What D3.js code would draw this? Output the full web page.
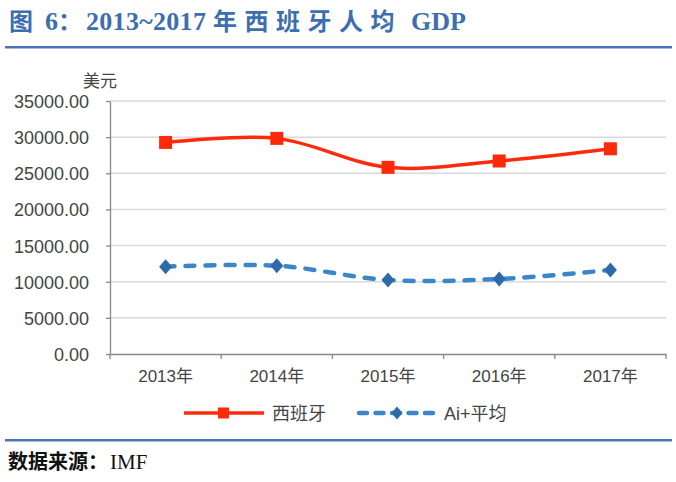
<!DOCTYPE html>
<html><head><meta charset="utf-8">
<script src="https://cdn.jsdelivr.net/npm/d3@7"></script>
<style>body{margin:0;background:#fff;} svg{display:block;}</style>
</head><body>
<script>
const categories = ["2013年","2014年","2015年","2016年","2017年"];
const spain = [29270, 29830, 25820, 26700, 28390];
const aiAvg = [12080, 12220, 10240, 10380, 11620];
const yTicks = [0,5000,10000,15000,20000,25000,30000,35000];
const seriesNames = ["西班牙","Ai+平均"];
const sourceText = "数据来源：IMF";
const unitText = "美元";

const W=676,H=482;
const svg=d3.select("body").append("svg").attr("width",W).attr("height",H);
const serif="'Times New Roman','Liberation Serif','Noto Sans CJK SC',serif";
const cjk="'Noto Sans CJK SC',sans-serif";
const sans="'Liberation Sans',Arial,'Noto Sans CJK SC',sans-serif";
const blueT="#3c6eb0";

const title=svg.append("text").attr("y",30).attr("fill",blueT).attr("font-weight","bold").attr("font-size",24);
title.append("tspan").attr("x",9).attr("font-family",cjk).text("图");
title.append("tspan").attr("x",45).attr("font-family",serif).attr("font-size",26).text("6");
title.append("tspan").attr("x",58).attr("font-family",cjk).text("：");
title.append("tspan").attr("x",86).attr("font-family",serif).attr("font-size",26).attr("letter-spacing",0.3).text("2013~2017");
title.append("tspan").attr("x",213).attr("font-family",cjk).attr("letter-spacing",7.5).text("年西班牙人均");
title.append("tspan").attr("x",411).attr("font-family",serif).attr("font-size",26).text("GDP");

svg.append("rect").attr("x",5).attr("y",46).attr("width",667).attr("height",2.5).attr("fill","#4a74b8");
svg.append("rect").attr("x",5).attr("y",439).attr("width",667).attr("height",2.5).attr("fill","#4a74b8");
const src=svg.append("text").attr("x",8).attr("y",469).attr("font-size",20).attr("fill","#111");
src.append("tspan").attr("font-family",cjk).attr("font-weight","bold").text("数据来源：");
src.append("tspan").attr("x",110).attr("font-family",serif).attr("font-size",21).text("IMF");

const x=d3.scaleBand().domain(categories).range([110,666]);
const y=d3.scaleLinear().domain([0,35000]).range([354,101]);

svg.append("g").selectAll("line").data(yTicks.filter(d=>d>0)).join("line")
  .attr("x1",110).attr("x2",666).attr("y1",d=>y(d)).attr("y2",d=>y(d))
  .attr("stroke","#d9d9d9").attr("stroke-width",1.5);

const ya=svg.append("g").attr("transform","translate(110,0)")
  .call(d3.axisLeft(y).tickValues(yTicks).tickFormat(d=>d.toFixed(2)).tickSize(4).tickSizeOuter(0));
ya.select(".domain").attr("stroke","#888").attr("stroke-width",1.3);
ya.selectAll(".tick line").attr("stroke","#888").attr("stroke-width",1.3);
ya.selectAll(".tick text").attr("font-family",sans).attr("font-size",18).attr("fill","#444").attr("x",-21).attr("dy","0.36em");

const xa=svg.append("g").attr("transform","translate(0,354)")
  .call(d3.axisBottom(x).tickSize(0).tickSizeOuter(0));
xa.select(".domain").attr("stroke","#888").attr("stroke-width",1.3);
xa.selectAll(".bt").data(d3.range(categories.length+1)).join("line")
  .attr("x1",i=>x.range()[0]+i*x.bandwidth()).attr("x2",i=>x.range()[0]+i*x.bandwidth())
  .attr("y1",0).attr("y2",5).attr("stroke","#888").attr("stroke-width",1.3);
xa.selectAll(".tick text").attr("font-family",sans).attr("font-size",17).attr("fill","#444").attr("y",16);

svg.append("text").attr("x",83).attr("y",87).attr("font-family",sans).attr("font-size",17).attr("fill","#444").text(unitText);

const cx=d=>x(d)+x.bandwidth()/2;
const line=d3.line().x((d,i)=>cx(categories[i])).y(d=>y(d)).curve(d3.curveCatmullRom.alpha(0.5));
const red="#ff2a0a", blue="#3a86c8", blueD="#2f6aa8";

svg.append("path").attr("d",line(spain)).attr("fill","none").attr("stroke",red).attr("stroke-width",3.5);
svg.append("path").attr("d",line(aiAvg)).attr("fill","none").attr("stroke",blue).attr("stroke-width",4.5)
  .attr("stroke-dasharray","9,11").attr("stroke-linecap","round");

svg.append("g").selectAll("rect").data(spain).join("rect")
  .attr("x",(d,i)=>cx(categories[i])-6.5).attr("y",d=>y(d)-6.5).attr("width",13).attr("height",13).attr("fill",red);
const diamondPath=(hw,hh)=>`M0,${-hh}L${hw},0L0,${hh}L${-hw},0Z`;
svg.append("g").selectAll("path").data(aiAvg).join("path")
  .attr("d",diamondPath(6.5,7.5)).attr("transform",(d,i)=>`translate(${cx(categories[i])},${y(d)})`).attr("fill",blueD);

const ly=413;
svg.append("line").attr("x1",184).attr("x2",264).attr("y1",ly).attr("y2",ly).attr("stroke",red).attr("stroke-width",3.5);
svg.append("rect").attr("x",218).attr("y",ly-5.5).attr("width",11).attr("height",11).attr("fill",red);
svg.append("text").attr("x",272).attr("y",ly+6.5).attr("font-family",sans).attr("font-size",18).attr("fill","#444").text(seriesNames[0]);
svg.append("line").attr("x1",359).attr("x2",437).attr("y1",ly).attr("y2",ly).attr("stroke",blue).attr("stroke-width",4.5)
  .attr("stroke-dasharray","8,8.5").attr("stroke-linecap","round");
svg.append("path").attr("d",diamondPath(5.5,6.5)).attr("transform",`translate(397,${ly})`).attr("fill",blueD);
svg.append("text").attr("x",444).attr("y",ly+6.5).attr("font-family",sans).attr("font-size",18).attr("fill","#444").text(seriesNames[1]);
</script>
</body></html>
